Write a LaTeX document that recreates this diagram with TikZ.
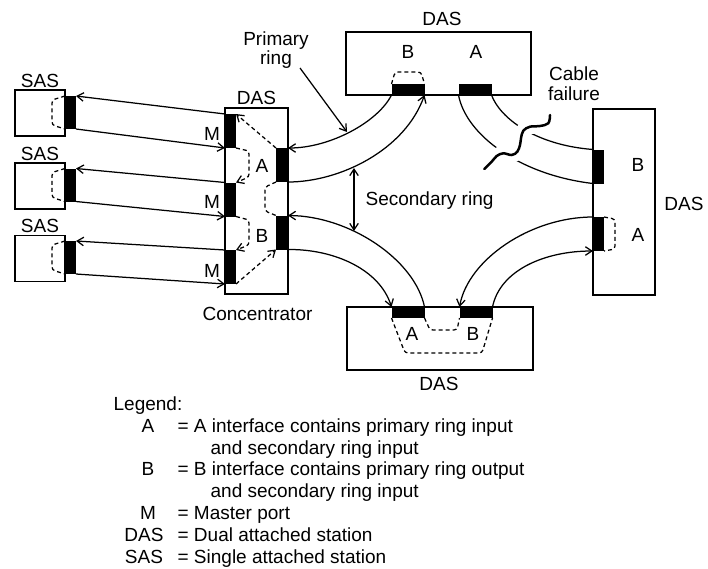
\documentclass[tikz,border=0pt]{standalone}
\usepackage{fontspec}
\setmainfont{Liberation Sans}
\usetikzlibrary{arrows.meta}

\begin{document}
\begin{tikzpicture}[x=1pt,y=-1pt,line width=1.25pt,
  box/.style={draw,line width=1.25pt,inner sep=0pt,outer sep=0pt},
  port/.style={fill=black,draw=none,inner sep=0pt,outer sep=0pt},
  vport/.style={port,minimum width=11pt,minimum height=34pt},
  hport/.style={port,minimum width=33pt,minimum height=11pt},
  lbl/.style={font=\fontsize{19}{21}\selectfont,inner sep=0pt,anchor=base},
  leg/.style={font=\fontsize{19}{21}\selectfont,inner sep=0pt,anchor=base west},
  legkey/.style={font=\fontsize{19}{21}\selectfont,inner sep=0pt,anchor=base},
  arr/.style={-{Straight Barb[length=6.5pt,width=8.5pt]}},
  dsh/.style={dash pattern=on 4pt off 3pt},
  lp/.style={dsh,rounded corners=3pt},
]
\useasboundingbox (0,0) rectangle (708,568);

% ---------- single attached stations ----------
\node[box,minimum width=50pt,minimum height=46pt] (sas1) at (40,113) {};
\node[box,minimum width=50pt,minimum height=46pt] (sas2) at (40,186) {};
\node[box,minimum width=50pt,minimum height=46pt] (sas3) at (40,258.5) {};
\node[vport,minimum height=33pt] (s1p) at (70.5,112.5) {};
\node[vport,minimum height=33pt] (s2p) at (70.5,185) {};
\node[vport,minimum height=33pt] (s3p) at (70.5,257.5) {};
\node[lbl] (sl1) at (40,87.5) {SAS};
\node[lbl] (sl2) at (40,160) {SAS};
\node[lbl] (sl3) at (40,232) {SAS};
\foreach \p in {s1p,s2p,s3p}
  \draw[lp] (\p.north west) -- ++(-13,4) -- ++(0,25) -- (\p.south west);

% ---------- concentrator ----------
\node[box,minimum width=63pt,minimum height=186pt] (conc) at (256.5,201) {};
\node[vport] (m1) at (230.5,131) {};
\node[vport] (m2) at (230.5,199.5) {};
\node[vport] (m3) at (230.5,267) {};
\node[vport,minimum width=12pt] (cA) at (282,165) {};
\node[vport,minimum width=12pt] (cB) at (282,232.5) {};
\node[lbl] (cdas) at (256.5,104) {DAS};
\node[lbl] (ml1) at (212,140) {M};
\node[lbl] (ml2) at (212,208) {M};
\node[lbl] (ml3) at (212,277) {M};
\node[lbl] (cla) at (262,172) {A};
\node[lbl] (clb) at (262,242) {B};
\node[lbl] (concname) at (257.5,320) {Concentrator};

% internal paths of the concentrator
\draw[dsh,arr] (cA.north west) -- (m1.north east);
\draw[lp,arr] (m1.south east) -- (249,151) -- (249,177) -- (m2.north east);
\draw[lp,arr] (m2.south east) -- (249,220) -- (249,245) -- (m3.north east);
\draw[dsh,arr] (m3.south east) -- (cB.south west);
\draw[lp] (cA.south west) -- (265,187) -- (265,211) -- (cB.north west);

% master ports to the stations
\draw[arr] (m1.north west) -- (s1p.north east);
\draw[arr] (s1p.south east) -- (m1.south west);
\draw[arr] (m2.north west) -- (s2p.north east);
\draw[arr] (s2p.south east) -- (m2.south west);
\draw[arr] (m3.north west) -- (s3p.north east);
\draw[arr] (s3p.south east) -- (m3.south west);

% ---------- top DAS ----------
\node[box,minimum width=185pt,minimum height=63pt] (top) at (438.5,63.5) {};
\node[hport] (tB) at (408,89.5) {};
\node[hport] (tA) at (475,89.5) {};
\node[lbl] (tdas) at (442,25.5) {DAS};
\node[lbl] (tlb) at (408,58) {B};
\node[lbl] (tla) at (476,58) {A};
\draw[lp] (tB.north west) -- (395,72) -- (421,72) -- (tB.north east);

% ---------- right DAS ----------
\node[box,minimum width=62pt,minimum height=186pt] (rgt) at (624,202) {};
\node[vport] (rB) at (598.5,166.5) {};
\node[vport] (rA) at (598.5,234) {};
\node[lbl] (rdas) at (684,210) {DAS};
\node[lbl] (rlb) at (638,171) {B};
\node[lbl] (rla) at (638,241) {A};
\draw[lp] (rA.north east) -- (615,219) -- (615,249) -- (rA.south east);

% ---------- bottom DAS ----------
\node[box,minimum width=186pt,minimum height=63pt] (bot) at (440,338.5) {};
\node[hport] (bA) at (408,312.5) {};
\node[hport] (bB) at (476,312.5) {};
\node[lbl] (bdas) at (439,390) {DAS};
\node[lbl] (bla) at (412,340) {A};
\node[lbl] (blb) at (473,340) {B};
\draw[lp] (bA.south east) -- (430,330) -- (457,330) -- (bB.south west);
\draw[lp] (bA.south west) -- (405,353) -- (482,353) -- (bB.south east);

% ---------- ring cables ----------
\draw[arr] (tB.south west) .. controls (378,122) and (330,148) .. (cA.north east);
\draw[arr] (cA.south east) .. controls (340,182) and (405,150) .. (tB.south east);
\draw[arr] (bA.north east) .. controls (415,260) and (350,216) .. (cB.north east);
\draw[arr] (cB.south east) .. controls (335,249) and (380,270) .. (bA.north west);
\draw[arr] (rA.north west) .. controls (530,217) and (468,260) .. (bB.north west);
\draw[arr] (bB.north east) .. controls (500,270) and (545,251) .. (rA.south west);
\draw (tA.south west) .. controls (466,135) and (520,175) .. (rB.south west);
\draw (tA.south east) .. controls (500,118) and (535,145) .. (rB.north west);

% broken cable: clear a gap, then draw the break mark
\def\breakmark{plot[smooth,tension=0.6] coordinates {(550,115) (548.3,123.3) (540,126) (530,126.7) (523.3,130.7) (521,138.3) (520,145) (517.3,151.7) (511.7,155) (503.3,153.3) (496.7,156) (491.7,161.7) (484.3,169)}}
\draw[white,line width=15pt] \breakmark;
\draw[line width=2.5pt,line cap=round] \breakmark;
\node[lbl] (cf1) at (574,80) {Cable};
\node[lbl] (cf2) at (574,100) {failure};

% ring annotations
\node[lbl] (pr1) at (276,45) {Primary};
\node[lbl] (pr2) at (276,64.5) {ring};
\coordinate (prtip) at (347,132);
\draw[arr] (300,68) -- (prtip);
\node[lbl,anchor=base west] (sr) at (365,205.5) {Secondary ring};
\coordinate (sr1) at (354,168);
\coordinate (sr2) at (354,231);
\draw[{Straight Barb[length=6.5pt,width=8.5pt]}-{Straight Barb[length=6.5pt,width=8.5pt]}] (sr1) -- (sr2);

% ---------- legend ----------
\node[leg] (lg) at (113,410) {Legend:};
\node[legkey] (ka) at (148,432) {A};
\node[leg] (ta) at (177,432) {= A interface contains primary ring input};
\node[leg] (ta2) at (210,454) {and secondary ring input};
\node[legkey] (kb) at (148,475.5) {B};
\node[leg] (tb) at (177,475.5) {= B interface contains primary ring output};
\node[leg] (tb2) at (210,497.5) {and secondary ring input};
\node[legkey] (km) at (148,519.5) {M};
\node[leg] (tm) at (177,519.5) {= Master port};
\node[legkey] (kd) at (144,541.5) {DAS};
\node[leg] (td) at (177,541.5) {= Dual attached station};
\node[legkey] (ks) at (144,563.5) {SAS};
\node[leg] (ts) at (177,563.5) {= Single attached station};
\end{tikzpicture}
\end{document}
